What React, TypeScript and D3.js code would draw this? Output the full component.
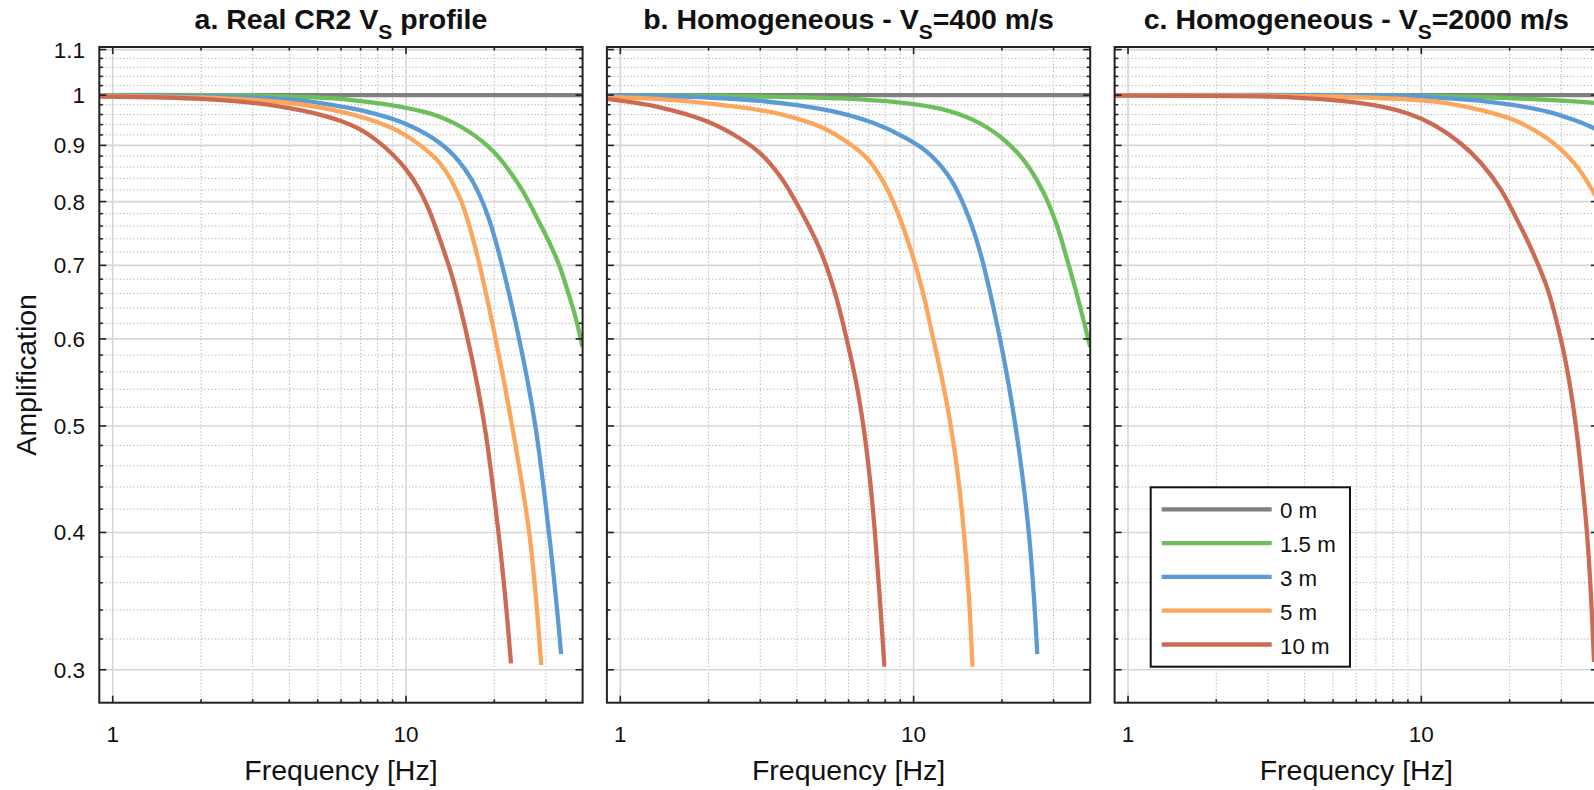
import React from "react";
import * as d3 from "d3";

// ---------------- data ----------------
const depthLabels = ["0 m", "1.5 m", "3 m", "5 m", "10 m"];
const seriesColors = ["#808080", "#6dbf5c", "#5b9bd5", "#fba65b", "#cc6b54"];

const titleMain = ["a. Real CR2 V", "b. Homogeneous - V", "c. Homogeneous - V"];
const titleSub = ["S", "S", "S"];
const titleTail = [" profile", "=400 m/s", "=2000 m/s"];

const xTickValues = [1, 10];
const xTickLabels = ["1", "10"];
const xMinorValues = [2, 3, 4, 5, 6, 7, 8, 9, 20, 30];
const yTickValues = [0.3, 0.4, 0.5, 0.6, 0.7, 0.8, 0.9, 1, 1.1];
const yTickLabels = ["0.3", "0.4", "0.5", "0.6", "0.7", "0.8", "0.9", "1", "1.1"];
const yMinorValues = d3.range(15, 56).filter((i) => i % 5 !== 0).map((i) => i * 0.02);

const xDomain: [number, number] = [0.9, 40];
const yDomain: [number, number] = [0.28, 1.106];

type Pt = [number, number];

// 0 m reference (all panels)
const flat0m: Pt[] = [[0.9, 1], [40, 1]];

// Panel a: real CR2 profile
const a15: Pt[] = [[0.9, 1.0], [3, 0.999], [5.66, 0.993], [7.33, 0.986], [9.53, 0.976], [12.4, 0.96], [16.1, 0.929], [19.9, 0.888], [24.5, 0.825], [28.6, 0.764], [31.5, 0.725], [33.5, 0.697], [35.8, 0.66], [38, 0.625], [40, 0.59]];
const a3: Pt[] = [[0.9, 1.0], [2, 0.998], [3, 0.995], [4.35, 0.989], [5.66, 0.979], [7.33, 0.966], [9.53, 0.946], [12.4, 0.913], [14.5, 0.882], [16.9, 0.834], [18.9, 0.78], [20.6, 0.723], [24.3, 0.6], [27.6, 0.5], [30.7, 0.4], [32.4, 0.35], [33.8, 0.31]];
const a5: Pt[] = [[0.9, 0.999], [2, 0.995], [3, 0.99], [4.35, 0.981], [5.66, 0.969], [7.33, 0.952], [9.5, 0.926], [11.2, 0.9], [13.1, 0.866], [15.3, 0.805], [17.3, 0.723], [20.2, 0.6], [23.0, 0.5], [26.3, 0.4], [27.7, 0.35], [28.9, 0.303]];
const a10: Pt[] = [[0.9, 0.997], [1.5, 0.995], [2, 0.992], [3, 0.984], [4, 0.973], [5, 0.961], [6, 0.947], [7, 0.93], [8, 0.908], [9, 0.883], [10, 0.856], [11, 0.824], [12, 0.785], [13.4, 0.724], [14.5, 0.678], [16, 0.61], [17.5, 0.545], [18.75, 0.49], [20, 0.43], [21, 0.385], [22, 0.34], [22.8, 0.304]];

// Panel b: homogeneous Vs = 400 m/s
const b15: Pt[] = [[0.9, 1.0], [3, 0.997], [5.63, 0.993], [9.48, 0.983], [12.3, 0.972], [16, 0.949], [19.8, 0.916], [23.7, 0.873], [27.8, 0.814], [30.9, 0.759], [33.4, 0.708], [36.5, 0.65], [40, 0.59]];
const b3: Pt[] = [[0.9, 1.0], [1.98, 0.995], [3, 0.988], [4, 0.979], [5.63, 0.963], [7.3, 0.943], [9.48, 0.913], [11.1, 0.888], [13, 0.848], [14.5, 0.805], [16.6, 0.73], [19.7, 0.6], [22.5, 0.49], [24.7, 0.4], [25.7, 0.35], [26.4, 0.31]];
const b5: Pt[] = [[0.9, 0.997], [1.33, 0.992], [1.98, 0.983], [3, 0.969], [4, 0.952], [4.94, 0.933], [5.92, 0.907], [6.94, 0.876], [7.92, 0.832], [8.77, 0.785], [9.7, 0.728], [10.7, 0.665], [11.67, 0.6], [12.62, 0.545], [13.39, 0.5], [14.17, 0.45], [14.84, 0.4], [15.43, 0.35], [15.88, 0.302]];
const b10: Pt[] = [[0.9, 0.992], [1.33, 0.976], [1.98, 0.946], [2.56, 0.913], [3, 0.885], [3.51, 0.843], [4.11, 0.786], [4.8, 0.723], [5.4, 0.66], [5.91, 0.6], [6.35, 0.55], [6.74, 0.5], [7.08, 0.45], [7.38, 0.4], [7.66, 0.35], [7.95, 0.302]];

// Panel c: homogeneous Vs = 2000 m/s
const c15: Pt[] = [[0.9, 1.0], [9.4, 0.999], [16, 0.996], [20.7, 0.993], [26.9, 0.99], [33.2, 0.987], [38.8, 0.984], [40, 0.983]];
const c3: Pt[] = [[0.9, 1.0], [9.4, 0.998], [12.3, 0.993], [16, 0.988], [20.7, 0.979], [26.9, 0.966], [33.2, 0.949], [38.8, 0.933], [40, 0.929]];
const c5: Pt[] = [[0.9, 1.0], [4.9, 0.997], [9.44, 0.99], [12.3, 0.983], [16, 0.969], [20.7, 0.949], [26.9, 0.913], [33.2, 0.867], [38.8, 0.814], [40, 0.8]];
const c10: Pt[] = [[0.9, 0.999], [3, 0.997], [4.9, 0.99], [6.9, 0.979], [9, 0.962], [11.06, 0.939], [13.6, 0.904], [16, 0.867], [18.7, 0.82], [21.8, 0.759], [23.8, 0.723], [27, 0.665], [29.9, 0.6], [31.9, 0.55], [33.65, 0.5], [35.2, 0.45], [36.7, 0.4], [37.9, 0.35], [38.8, 0.305]];

const panelSeries: Pt[][][] = [
  [flat0m, a15, a3, a5, a10],
  [flat0m, b15, b3, b5, b10],
  [flat0m, c15, c3, c5, c10],
];

// ---------------- layout ----------------
const W = 1594;
const H = 790;
const panelLefts = [99.3, 606.9, 1114.6];
const panelW = 483.3;
const plotTop = 47;
const plotBottom = 702.7;
const FONT = "'Liberation Sans', Arial, Helvetica, sans-serif";
const AXIS = "#222";

function Panel({ idx }: { idx: number }) {
  const left = panelLefts[idx];
  const x = d3.scaleLog().domain(xDomain).range([left, left + panelW]);
  const y = d3.scaleLog().domain(yDomain).range([plotBottom, plotTop]);
  const line = d3
    .line<Pt>()
    .x((d) => x(d[0]))
    .y((d) => y(d[1]))
    .curve(d3.curveCatmullRom.alpha(0.5));
  const right = left + panelW;
  const clipId = `clip-${idx}`;
  const cx = left + panelW / 2;
  const majT = 7;
  const minT = 3.5;
  return (
    <g>
      <defs>
        <clipPath id={clipId}>
          <rect x={left} y={plotTop} width={panelW} height={plotBottom - plotTop} />
        </clipPath>
      </defs>
      {/* minor grid */}
      <g stroke="#b3b3b3" strokeWidth={1} strokeDasharray="1.3 2.1">
        {yMinorValues.map((v, i) => (
          <line key={"ym" + i} x1={left} x2={right} y1={y(v)} y2={y(v)} />
        ))}
        {xMinorValues.map((v, i) => (
          <line key={"xm" + i} x1={x(v)} x2={x(v)} y1={plotTop} y2={plotBottom} />
        ))}
      </g>
      {/* major grid */}
      <g stroke="#d6d6d6" strokeWidth={1.6}>
        {yTickValues.map((v, i) => (
          <line key={"yg" + i} x1={left} x2={right} y1={y(v)} y2={y(v)} />
        ))}
        {xTickValues.map((v, i) => (
          <line key={"xg" + i} x1={x(v)} x2={x(v)} y1={plotTop} y2={plotBottom} />
        ))}
      </g>
      {/* curves */}
      <g clipPath={`url(#${clipId})`} fill="none" strokeWidth={4.3} strokeLinejoin="round">
        {panelSeries[idx].map((s, i) => (
          <path key={"s" + i} d={line(s) || ""} stroke={seriesColors[i]} />
        ))}
      </g>
      {/* ticks */}
      <g stroke={AXIS} strokeWidth={1.6}>
        {yTickValues.map((v, i) => (
          <g key={"yt" + i}>
            <line x1={left} x2={left + majT} y1={y(v)} y2={y(v)} />
            <line x1={right} x2={right - majT} y1={y(v)} y2={y(v)} />
          </g>
        ))}
        {yMinorValues.map((v, i) => (
          <g key={"ytm" + i}>
            <line x1={left} x2={left + minT} y1={y(v)} y2={y(v)} />
            <line x1={right} x2={right - minT} y1={y(v)} y2={y(v)} />
          </g>
        ))}
        {xTickValues.map((v, i) => (
          <g key={"xt" + i}>
            <line x1={x(v)} x2={x(v)} y1={plotBottom} y2={plotBottom - majT} />
            <line x1={x(v)} x2={x(v)} y1={plotTop} y2={plotTop + majT} />
          </g>
        ))}
        {xMinorValues.map((v, i) => (
          <g key={"xtm" + i}>
            <line x1={x(v)} x2={x(v)} y1={plotBottom} y2={plotBottom - minT} />
            <line x1={x(v)} x2={x(v)} y1={plotTop} y2={plotTop + minT} />
          </g>
        ))}
      </g>
      {/* frame */}
      <rect x={left} y={plotTop} width={panelW} height={plotBottom - plotTop} fill="none" stroke={AXIS} strokeWidth={2} />
      {/* x tick labels */}
      {xTickValues.map((v, i) => (
        <text key={"xl" + i} x={x(v)} y={742} textAnchor="middle" fontSize={22.5} fontFamily={FONT} fill="#111">
          {xTickLabels[i]}
        </text>
      ))}
      {/* x axis label */}
      <text x={cx} y={780} textAnchor="middle" fontSize={28.5} fontFamily={FONT} fill="#111">
        Frequency [Hz]
      </text>
      {/* title */}
      <text x={cx} y={29} textAnchor="middle" fontSize={28.5} fontWeight="bold" fontFamily={FONT} fill="#111">
        {titleMain[idx]}
        <tspan dy={10} fontSize={21}>{titleSub[idx]}</tspan>
        <tspan dy={-10}>{titleTail[idx]}</tspan>
      </text>
      {/* y tick labels, first panel only */}
      {idx === 0 &&
        yTickValues.map((v, i) => (
          <text key={"yl" + i} x={85} y={y(v) + 8} textAnchor="end" fontSize={22.5} fontFamily={FONT} fill="#111">
            {yTickLabels[i]}
          </text>
        ))}
      {idx === 0 && (
        <text
          transform={`translate(36,${(plotTop + plotBottom) / 2}) rotate(-90)`}
          textAnchor="middle"
          fontSize={28.5}
          fontFamily={FONT}
          fill="#111"
        >
          Amplification
        </text>
      )}
    </g>
  );
}

function Legend() {
  const lx = 1150.7;
  const ly = 487.3;
  const rowY0 = 509.3;
  const rowStep = 33.8;
  return (
    <g>
      <rect x={lx} y={ly} width={199.3} height={179.4} fill="#fff" stroke="#111" strokeWidth={2} />
      {depthLabels.map((lab, i) => (
        <g key={lab}>
          <line x1={1161.7} x2={1271.7} y1={rowY0 + i * rowStep} y2={rowY0 + i * rowStep} stroke={seriesColors[i]} strokeWidth={4.3} />
          <text x={1280} y={rowY0 + i * rowStep + 9} fontSize={22.3} fontFamily={FONT} fill="#111">
            {lab}
          </text>
        </g>
      ))}
    </g>
  );
}

export default function App() {
  return (
    <svg
      width={W}
      height={H}
      viewBox={`0 0 ${W} ${H}`}
      style={{ position: "absolute", left: 0, top: 0, background: "#fff", display: "block" }}
    >
      <rect x={0} y={0} width={W} height={H} fill="#fff" />
      {[0, 1, 2].map((i) => (
        <Panel key={i} idx={i} />
      ))}
      <Legend />
    </svg>
  );
}
